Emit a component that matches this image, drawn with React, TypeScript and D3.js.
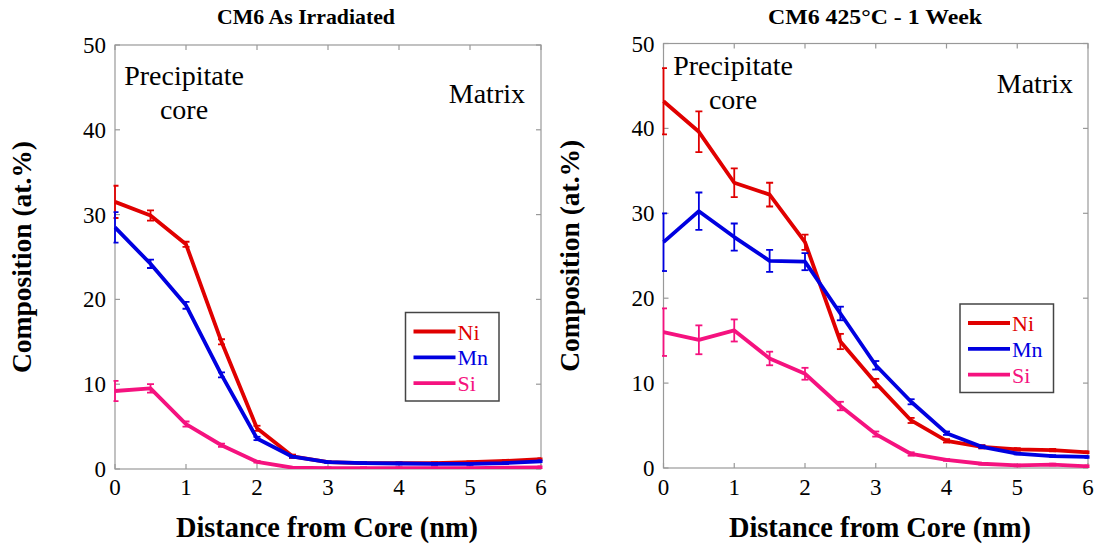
import React from "react";
import * as d3 from "d3";

const distances = [0, 0.5, 1, 1.5, 2, 2.5, 3, 3.5, 4, 4.5, 5, 5.5, 6];
const xTicks = [0, 1, 2, 3, 4, 5, 6];
const yTicks = [0, 10, 20, 30, 40, 50];
const seriesNames = ["Ni", "Mn", "Si"];
const seriesColors = ["#e00000", "#0000e0", "#f5127f"];

// CM6 As Irradiated
const niIrr = [31.5, 29.9, 26.5, 15.0, 4.8, 1.5, 0.8, 0.7, 0.7, 0.7, 0.8, 0.95, 1.15];
const niIrrErr = [1.9, 0.6, 0.3, 0.3, 0.3, 0.2, 0.1, 0.1, 0.1, 0.1, 0.1, 0.1, 0.1];
const mnIrr = [28.5, 24.2, 19.3, 11.1, 3.6, 1.45, 0.8, 0.7, 0.65, 0.6, 0.6, 0.7, 0.9];
const mnIrrErr = [1.8, 0.5, 0.4, 0.3, 0.2, 0.1, 0.1, 0.1, 0.1, 0.1, 0.1, 0.1, 0.1];
const siIrr = [9.2, 9.5, 5.3, 2.8, 0.85, 0.15, 0.1, 0.1, 0.1, 0.1, 0.1, 0.15, 0.2];
const siIrrErr = [1.2, 0.5, 0.3, 0.2, 0.1, 0.1, 0.1, 0.1, 0.1, 0.1, 0.1, 0.1, 0.1];

// CM6 425°C - 1 Week
const niAnn = [43.2, 39.6, 33.6, 32.2, 26.6, 14.9, 10.0, 5.6, 3.2, 2.5, 2.2, 2.1, 1.85];
const niAnnErr = [3.9, 2.4, 1.7, 1.4, 0.9, 0.9, 0.5, 0.3, 0.2, 0.2, 0.15, 0.15, 0.1];
const mnAnn = [26.6, 30.25, 27.2, 24.4, 24.3, 18.2, 12.1, 7.8, 4.1, 2.5, 1.7, 1.4, 1.3];
const mnAnnErr = [3.4, 2.2, 1.6, 1.3, 1.0, 0.8, 0.5, 0.3, 0.2, 0.15, 0.1, 0.1, 0.1];
const siAnn = [16.0, 15.1, 16.2, 12.9, 11.1, 7.3, 4.0, 1.65, 0.95, 0.5, 0.3, 0.4, 0.2];
const siAnnErr = [2.8, 1.7, 1.3, 0.8, 0.7, 0.5, 0.3, 0.2, 0.1, 0.1, 0.1, 0.1, 0.1];

const FONT = "'Liberation Serif', 'Times New Roman', serif";

type PanelProps = {
  id: string;
  title: string;
  titleX: number;
  titleLen: number;
  left: number;
  right: number;
  top: number;
  bottom: number;
  values: number[][];
  errors: number[][];
  legend: { x: number; y: number };
  precipX: number;
  precipY: number;
  matrixX: number;
  matrixY: number;
  yLabelX: number;
  xLabelX: number;
};

function Panel(p: PanelProps) {
  const x = d3.scaleLinear().domain([0, 6]).range([p.left, p.right]);
  const y = d3.scaleLinear().domain([0, 50]).range([p.bottom, p.top]);
  const line = d3
    .line<number>()
    .x((_, i) => x(distances[i]))
    .y((v) => y(v));
  const tickLen = 5;
  const cap = 3.5;
  const midY = (p.top + p.bottom) / 2;
  return (
    <g>
      <defs>
        <clipPath id={p.id}>
          <rect x={p.left - 1.5} y={p.top} width={p.right - p.left + 3} height={p.bottom - p.top} />
        </clipPath>
      </defs>
      <text
        x={p.titleX}
        y={24}
        textAnchor="middle"
        fontFamily={FONT}
        fontWeight="bold"
        fontSize={21}
        textLength={p.titleLen}
        lengthAdjust="spacingAndGlyphs"
      >
        {p.title}
      </text>
      <rect x={p.left} y={p.top} width={p.right - p.left} height={p.bottom - p.top} fill="white" stroke="#999" strokeWidth={1.2} />
      {xTicks.map((t) => (
        <g key={"x" + t}>
          <line x1={x(t)} x2={x(t)} y1={p.bottom} y2={p.bottom - tickLen} stroke="#999" strokeWidth={1.2} />
          <line x1={x(t)} x2={x(t)} y1={p.top} y2={p.top + tickLen} stroke="#999" strokeWidth={1.2} />
          <text x={x(t)} y={494.5} textAnchor="middle" fontFamily={FONT} fontSize={23}>
            {t}
          </text>
        </g>
      ))}
      {yTicks.map((t) => (
        <g key={"y" + t}>
          <line x1={p.left} x2={p.left + tickLen} y1={y(t)} y2={y(t)} stroke="#999" strokeWidth={1.2} />
          <line x1={p.right} x2={p.right - tickLen} y1={y(t)} y2={y(t)} stroke="#999" strokeWidth={1.2} />
          <text x={p.left - 9} y={y(t) + 8} textAnchor="end" fontFamily={FONT} fontSize={23}>
            {t}
          </text>
        </g>
      ))}
      <g clipPath={`url(#${p.id})`}>
        {p.values.map((vals, s) => (
          <g key={"s" + s}>
            <path d={line(vals) || ""} fill="none" stroke={seriesColors[s]} strokeWidth={3.8} strokeLinejoin="round" />
            {vals.map((v, i) => {
              const e = p.errors[s][i];
              const cx = x(distances[i]);
              return (
                <g key={i} stroke={seriesColors[s]} strokeWidth={1.8}>
                  <line x1={cx} x2={cx} y1={y(v - e)} y2={y(v + e)} />
                  <line x1={cx - cap} x2={cx + cap} y1={y(v - e)} y2={y(v - e)} />
                  <line x1={cx - cap} x2={cx + cap} y1={y(v + e)} y2={y(v + e)} />
                </g>
              );
            })}
          </g>
        ))}
      </g>
      <text x={p.precipX} y={p.precipY} textAnchor="middle" fontFamily={FONT} fontSize={28}>
        Precipitate
      </text>
      <text x={p.precipX} y={p.precipY + 34} textAnchor="middle" fontFamily={FONT} fontSize={28}>
        core
      </text>
      <text x={p.matrixX} y={p.matrixY} textAnchor="end" fontFamily={FONT} fontSize={28}>
        Matrix
      </text>
      <g transform={`translate(${p.legend.x},${p.legend.y})`}>
        <rect x={0} y={0} width={93.5} height={88.5} fill="white" stroke="#444" strokeWidth={1.5} />
        {seriesNames.map((n, i) => (
          <g key={n}>
            <line x1={8} x2={50} y1={19 + i * 25.8} y2={19 + i * 25.8} stroke={seriesColors[i]} strokeWidth={3.8} />
            <text x={52} y={19 + i * 25.8 + 8} fill={seriesColors[i]} fontFamily={FONT} fontSize={22}>
              {n}
            </text>
          </g>
        ))}
      </g>
      <text
        transform={`translate(${p.yLabelX},${midY}) rotate(-90)`}
        textAnchor="middle"
        fontFamily={FONT}
        fontWeight="bold"
        fontSize={27}
        textLength={232}
        lengthAdjust="spacingAndGlyphs"
      >
        Composition (at.%)
      </text>
      <text
        x={p.xLabelX}
        y={537}
        textAnchor="middle"
        fontFamily={FONT}
        fontWeight="bold"
        fontSize={29}
        textLength={302}
        lengthAdjust="spacingAndGlyphs"
      >
        Distance from Core (nm)
      </text>
    </g>
  );
}

export default function App() {
  return (
    <svg width={1095} height={546} style={{ position: "absolute", left: 0, top: 0, background: "white" }}>
      <rect width={1095} height={546} fill="white" />
      <Panel
        id="clipA"
        title="CM6 As Irradiated"
        titleX={306}
        titleLen={178}
        left={115}
        right={541}
        top={45}
        bottom={469}
        values={[niIrr, mnIrr, siIrr]}
        errors={[niIrrErr, mnIrrErr, siIrrErr]}
        legend={{ x: 405.5, y: 312.5 }}
        precipX={184}
        precipY={85}
        matrixX={525}
        matrixY={103}
        yLabelX={31}
        xLabelX={327}
      />
      <Panel
        id="clipB"
        title="CM6 425°C - 1 Week"
        titleX={875}
        titleLen={214}
        left={663.5}
        right={1088}
        top={43.5}
        bottom={468}
        values={[niAnn, mnAnn, siAnn]}
        errors={[niAnnErr, mnAnnErr, siAnnErr]}
        legend={{ x: 960, y: 304 }}
        precipX={733}
        precipY={75}
        matrixX={1073}
        matrixY={93}
        yLabelX={579}
        xLabelX={880}
      />
    </svg>
  );
}
